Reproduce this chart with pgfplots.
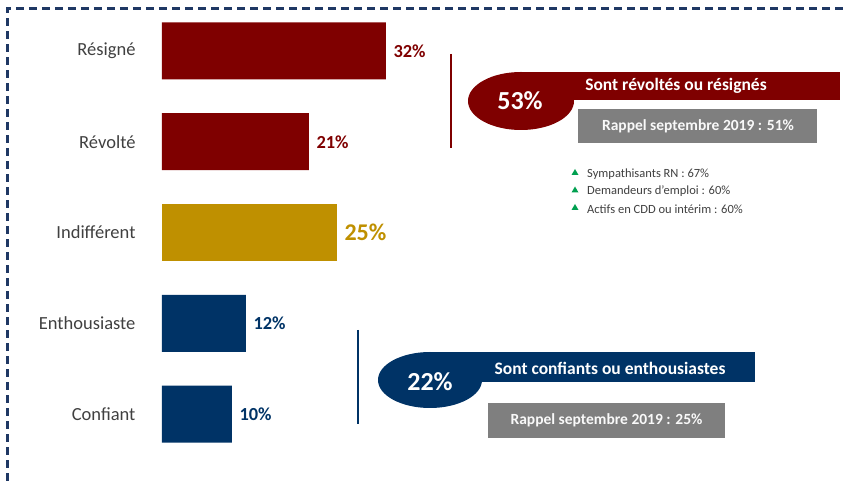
\documentclass[border=0pt]{standalone}
\usepackage{fontspec}
\setmainfont{Carlito}
\usepackage{pgfplots}
\pgfplotsset{compat=1.18}
\definecolor{darkred}{HTML}{7F0000}
\definecolor{gold}{HTML}{BF9000}
\definecolor{navy}{HTML}{003366}
\definecolor{labelgray}{HTML}{404040}
\definecolor{rappel}{HTML}{7F7F7F}
\definecolor{bordernavy}{HTML}{1F3864}
\definecolor{upgreen}{HTML}{00A050}

\begin{document}
\begin{tikzpicture}[x=1pt,y=1pt]
  \begin{axis}[
    at={(0,0)},anchor=south west,
    scale only axis,width=224pt,height=453.8pt,
    xmin=0,xmax=32,ymin=-0.5,ymax=4.5,
    xbar,bar width=57pt,bar shift=0pt,
    axis x line=none,axis y line=left,
    y axis line style={draw=none},
    ytick style={draw=none},major tick length=0pt,
    ytick={0,1,2,3,4},
    yticklabels={Confiant,Enthousiaste,Indifférent,Révolté,Résigné},
    yticklabel style={font=\fontsize{18.5}{22}\selectfont,text=labelgray,xshift=-23pt},
    /pgf/number format/assume math mode=true,
    point meta=x,
    nodes near coords={\pgfmathprintnumber{\pgfplotspointmeta}\%},
    nodes near coords style={anchor=west,xshift=4pt},
    clip=false,
  ]
  \addplot[fill=darkred,draw=none,
    nodes near coords style={font=\bfseries\fontsize{18.4}{22}\selectfont,text=darkred}]
    coordinates {(32,4) (21,3)};
  \addplot[fill=gold,draw=none,
    nodes near coords style={font=\bfseries\fontsize{24}{28}\selectfont,text=gold}]
    coordinates {(25,2)};
  \addplot[fill=navy,draw=none,
    nodes near coords style={font=\bfseries\fontsize{18.4}{22}\selectfont,text=navy}]
    coordinates {(12,1) (10,0)};
  \end{axis}

  \begin{scope}[shift={(-162pt,459.4pt)},yscale=-1]
    % dashed frame (top and left)
    \draw[bordernavy,line width=2.2pt,dash pattern=on 8pt off 5pt]
      (7.5,481) -- (7.5,8.5) -- (846,8.5);

    % upper annotation
    \draw[darkred,line width=1.3pt] (451,54) -- (451,148);
    \fill[darkred] (521,72) rectangle (840,100);
    \fill[darkred] (521,101) ellipse [x radius=53,y radius=29];
    \node[text=white,font=\bfseries\fontsize{26}{30}\selectfont] at (520,101) {53\%};
    \node[text=white,font=\bfseries\fontsize{17.5}{20}\selectfont] at (676,86) {Sont révoltés ou résignés};
    \fill[rappel] (578,109) rectangle (817,143);
    \node[text=white!95!gray,font=\bfseries\fontsize{15.5}{18}\selectfont] at (698,126.5) {Rappel septembre 2019 : 51\%};

    \foreach \yy/\txt in {174/{Sympathisants RN : 67\%},191.5/{Demandeurs d’emploi : 60\%},209/{Actifs en CDD ou intérim : 60\%}}{
      \fill[upgreen] (571.5,\yy+1) -- (578.5,\yy+1) -- (575,\yy-5) -- cycle;
      \node[anchor=west,inner sep=0pt,text=labelgray,font=\fontsize{12.5}{15}\selectfont] at (587,\yy) {\txt};
    }

    % lower annotation
    \draw[navy,line width=1.3pt] (358,330) -- (358,424);
    \fill[navy] (430,352) rectangle (755,382);
    \fill[navy] (430,380) ellipse [x radius=52,y radius=28];
    \node[text=white,font=\bfseries\fontsize{26}{30}\selectfont] at (430,382) {22\%};
    \node[text=white,font=\bfseries\fontsize{17.5}{20}\selectfont] at (610,368) {Sont confiants ou enthousiastes};
    \fill[rappel] (488,403) rectangle (725,438);
    \node[text=white!95!gray,font=\bfseries\fontsize{15.5}{18}\selectfont] at (606.5,420.5) {Rappel septembre 2019 : 25\%};

    \pgfresetboundingbox
    \path (0,0) rectangle (846,481);
  \end{scope}
\end{tikzpicture}
\end{document}
